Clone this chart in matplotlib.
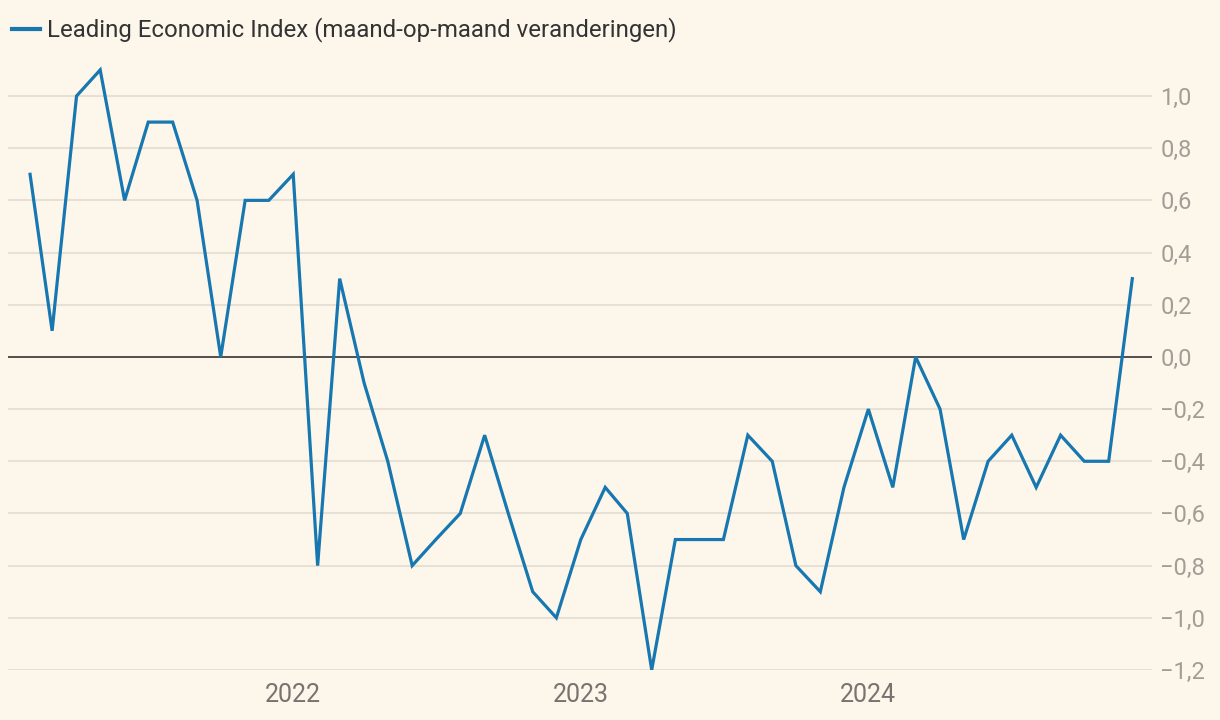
import numpy as np
import pandas as pd
import matplotlib
matplotlib.use("Agg")
import matplotlib.pyplot as plt
import matplotlib.dates as mdates

plt.rcParams['font.family'] = ['Roboto', 'DejaVu Sans']

# monthly changes, Feb 2021 - Dec 2024
months = pd.date_range("2021-02-01", periods=47, freq="MS")
lei_values = [
    0.7, 0.1, 1.0, 1.1, 0.6, 0.9, 0.9, 0.6, 0.0, 0.6, 0.6,          # 2021
    0.7, -0.8, 0.3, -0.1, -0.4, -0.8, -0.7, -0.6, -0.3, -0.6, -0.9, -1.0,  # 2022
    -0.7, -0.5, -0.6, -1.2, -0.7, -0.7, -0.7, -0.3, -0.4, -0.8, -0.9, -0.5,  # 2023
    -0.2, -0.5, 0.0, -0.2, -0.7, -0.4, -0.3, -0.5, -0.3, -0.4, -0.4, 0.3,   # 2024
]
y_ticks = [1.0, 0.8, 0.6, 0.4, 0.2, 0.0, -0.2, -0.4, -0.6, -0.8, -1.0, -1.2]
year_ticks = ["2022-01-01", "2023-01-01", "2024-01-01"]
year_labels = ["2022", "2023", "2024"]
series_label = "Leading Economic Index (maand-op-maand veranderingen)"

bg = "#fdf6ea"
line_color = "#1777b0"

fig = plt.figure(figsize=(12.2, 7.2), dpi=100, facecolor=bg)
ax = fig.add_axes([8 / 1220, 50 / 720, 1144 / 1220, 610 / 720])
ax.set_facecolor(bg)

for v in y_ticks:
    if v == 0:
        continue
    ax.axhline(v, color="#e7e0d5", lw=1.5, zorder=1)
ax.axhline(0, color="#333333", lw=1.2, zorder=2)

ax.plot(months, lei_values, color=line_color, lw=2.3, zorder=3,
        solid_joinstyle="miter", label=series_label)

ax.set_xlim(months[0] - pd.Timedelta(days=28), months[-1] + pd.Timedelta(days=25))
ax.set_ylim(-1.2, 1.138)

ax.set_yticks(y_ticks)
ax.set_yticklabels([f"{v:.1f}".replace(".", ",").replace("-", "\u2212") for v in y_ticks])
ax.yaxis.tick_right()
ax.tick_params(axis="y", length=0, pad=6, labelsize=17, labelcolor="#a29d96")

ax.set_xticks(pd.to_datetime(year_ticks))
ax.set_xticklabels(year_labels)
ax.tick_params(axis="x", length=0, pad=9, labelsize=18, labelcolor="#777370")

for s in ax.spines.values():
    s.set_visible(False)

leg = fig.legend(loc="center left", bbox_to_anchor=(12 / 1220, 1 - 30 / 720),
                 frameon=False, borderpad=0, borderaxespad=0,
                 fontsize=17.3, handlelength=1.15, handletextpad=0.3)
for t in leg.get_texts():
    t.set_color("#333333")
leg.get_lines()[0].set_linewidth(3)

fig.savefig("out.png", dpi=100, facecolor=bg)
